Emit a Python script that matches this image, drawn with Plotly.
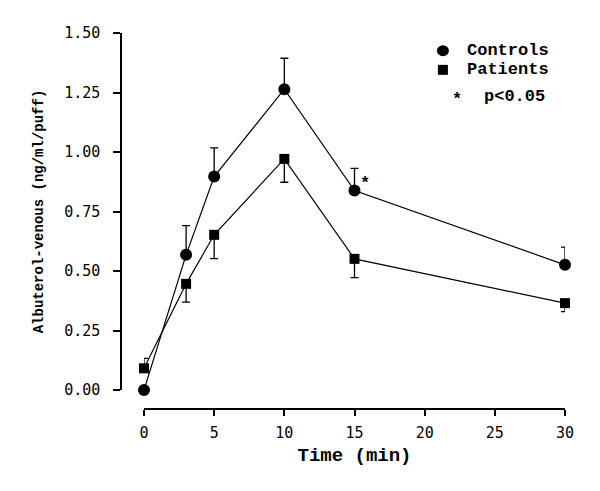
import plotly.graph_objects as go

# Data
time_min = [0, 3, 5, 10, 15, 30]
controls = [0.00, 0.568, 0.897, 1.264, 0.838, 0.526]
controls_err_up = [0.0, 0.123, 0.12, 0.13, 0.093, 0.074]
patients = [0.091, 0.446, 0.652, 0.971, 0.551, 0.365]
patients_err_up = [0.042, 0.0, 0.0, 0.0, 0.0, 0.0]
patients_err_down = [0.0, 0.077, 0.10, 0.098, 0.079, 0.036]
x_ticks = [0, 5, 10, 15, 20, 25, 30]
y_ticks = [0.0, 0.25, 0.5, 0.75, 1.0, 1.25, 1.5]
y_tick_labels = ["0.00", "0.25", "0.50", "0.75", "1.00", "1.25", "1.50"]

TICKFONT = dict(family="DejaVu Sans Mono", size=15, color="black")
TITLEFONT = "Liberation Mono"

fig = go.Figure()

fig.add_trace(go.Scatter(
    x=time_min, y=controls, mode="lines+markers", name="Controls",
    line=dict(color="black", width=1.2),
    marker=dict(symbol="circle", size=12, color="black"),
    error_y=dict(type="data", symmetric=False, array=controls_err_up,
                 arrayminus=[0] * len(controls), color="black",
                 thickness=1.3, width=4),
    cliponaxis=False, showlegend=False,
))
fig.add_trace(go.Scatter(
    x=time_min, y=patients, mode="lines+markers", name="Patients",
    line=dict(color="black", width=1.2),
    marker=dict(symbol="square", size=10, color="black"),
    error_y=dict(type="data", symmetric=False, array=patients_err_up,
                 arrayminus=patients_err_down, color="black",
                 thickness=1.3, width=4),
    cliponaxis=False, showlegend=False,
))

ast_font = dict(family=TITLEFONT, size=17, color="black", weight="bold")
# significance asterisks
fig.add_annotation(x=-1.0, y=0.092, xref="x", yref="y", text="*", showarrow=False,
                   font=ast_font, yshift=-4)
fig.add_annotation(x=15.75, y=0.883, xref="x", yref="y", text="*", showarrow=False,
                   font=ast_font, yshift=-4)

# manual legend
fig.add_shape(type="circle", xref="paper", yref="paper", xsizemode="pixel", ysizemode="pixel",
              xanchor=0.725, yanchor=0.953, x0=-6, x1=6, y0=-5.5, y1=5.5,
              fillcolor="black", line=dict(color="black", width=0))
fig.add_shape(type="rect", xref="paper", yref="paper", xsizemode="pixel", ysizemode="pixel",
              xanchor=0.725, yanchor=0.902, x0=-5, x1=5, y0=-5, y1=5,
              fillcolor="black", line=dict(color="black", width=0))
legend_font = dict(family=TITLEFONT, size=17, color="black", weight="bold")
fig.add_annotation(x=0.775, y=0.953, xref="paper", yref="paper", text="Controls",
                   showarrow=False, xanchor="left", yanchor="middle", font=legend_font)
fig.add_annotation(x=0.775, y=0.902, xref="paper", yref="paper", text="Patients",
                   showarrow=False, xanchor="left", yanchor="middle", font=legend_font)
fig.add_annotation(x=0.757, y=0.831, xref="paper", yref="paper", text="*",
                   showarrow=False, xanchor="center", yanchor="middle", yshift=-3,
                   font=ast_font)
fig.add_annotation(x=0.812, y=0.831, xref="paper", yref="paper", text="p<0.05",
                   showarrow=False, xanchor="left", yanchor="middle", font=legend_font)

fig.update_layout(
    width=600, height=491,
    margin=dict(l=121, r=35, t=33, b=82, autoexpand=False),
    paper_bgcolor="white", plot_bgcolor="white",
    showlegend=False,
    xaxis=dict(
        domain=[23 / 444, 1], range=[0, 30], anchor="free", position=0,
        tickmode="array", tickvals=x_ticks, automargin=False,
        showline=True, linecolor="black", linewidth=1.5,
        ticks="outside", ticklen=6, tickwidth=1.5, tickcolor="black",
        showgrid=False, zeroline=False, tickfont=TICKFONT, ticklabelstandoff=4,
        title=dict(text="Time (min)", standoff=6,
                   font=dict(family=TITLEFONT, size=19, color="black", weight="bold")),
    ),
    yaxis=dict(
        domain=[19 / 376, 1], range=[0, 1.5], anchor="free", position=0,
        tickmode="array", tickvals=y_ticks, ticktext=y_tick_labels, automargin=False,
        showline=True, linecolor="black", linewidth=1.5,
        ticks="outside", ticklen=7, tickwidth=1.5, tickcolor="black",
        showgrid=False, zeroline=False, tickfont=TICKFONT, ticklabelstandoff=10,
        title=dict(text="Albuterol-venous (ng/ml/puff)", standoff=16,
                   font=dict(family=TITLEFONT, size=14, color="black", weight="bold")),
    ),
)

fig.write_html("out.html", post_script="document.body.style.margin='0';",
               config={"displayModeBar": False})
